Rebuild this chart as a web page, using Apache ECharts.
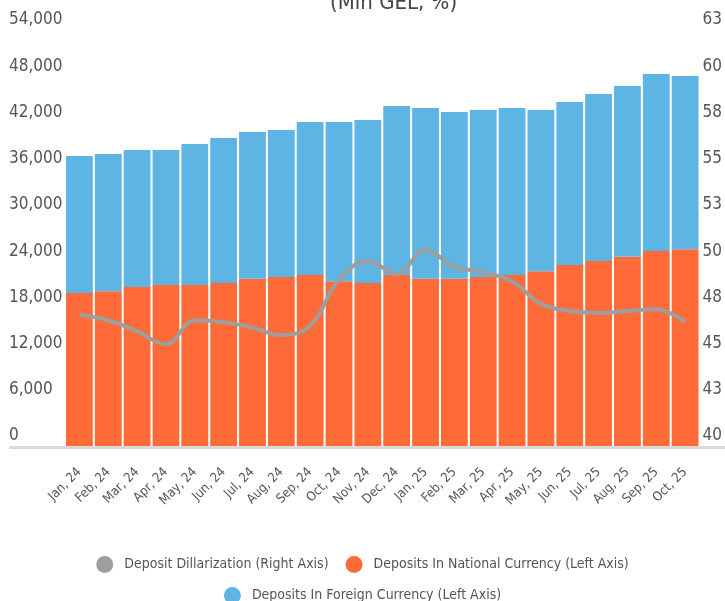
<!DOCTYPE html>
<html>
<head>
<meta charset="utf-8">
<script src="https://cdn.jsdelivr.net/npm/echarts@6/dist/echarts.min.js"></script>
<style>
  html, body { margin: 0; padding: 0; background: #fff; }
  #chart { width: 725px; height: 601px; }
</style>
</head>
<body>
<div id="chart"></div>
<script>
// Monthly deposits (Mln GEL) and deposit dollarization (%)
const months = ['Jan, 24', 'Feb, 24', 'Mar, 24', 'Apr, 24', 'May, 24', 'Jun, 24', 'Jul, 24', 'Aug, 24',
  'Sep, 24', 'Oct, 24', 'Nov, 24', 'Dec, 24', 'Jan, 25', 'Feb, 25', 'Mar, 25', 'Apr, 25', 'May, 25',
  'Jun, 25', 'Jul, 25', 'Aug, 25', 'Sep, 25', 'Oct, 25']
const nationalCurrency = [19850, 20100, 20650, 20900, 20900, 21150, 21700, 21950, 22200, 21400, 21150,
  22200, 21700, 21700, 21950, 22200, 22700, 23500, 24000, 24550, 25300, 25550]
const foreignCurrency = [17790, 17800, 17770, 17520, 18300, 18830, 19060, 19070, 19860, 20660, 21170,
  21930, 22170, 21650, 21660, 21670, 20910, 21150, 21690, 22180, 22990, 22480]
const dollarization = [47.1, 46.8, 46.2, 45.5, 46.8, 46.7, 46.4, 46.0, 46.5, 49.0, 50.0,
  49.3, 50.6, 49.7, 49.4, 48.9, 47.7, 47.3, 47.2, 47.3, 47.4, 46.7]

const FONT = "'Liberation Sans Narrow', 'DejaVu Sans Condensed', sans-serif"
const colors = {
  national: '#ff6b38',
  foreign: '#5eb5e4',
  line: '#9e9e9e',
  text: '#555555',
  base: '#d9d9d9'
}

const chart = echarts.init(document.getElementById('chart'))

const legendText = { fontFamily: FONT, fontSize: 14, color: colors.text, padding: [0, 0, 0, 6] }

const option = {
  backgroundColor: '#ffffff',
  animation: false,
  title: {
    text: '(Mln GEL, %)',
    left: 325,
    top: -13,
    textStyle: { fontFamily: FONT, fontSize: 22, fontWeight: 'normal', color: '#444' }
  },
  grid: { left: 65, right: 21, top: 30, bottom: 155 },
  legend: [
    {
      data: ['Deposit Dillarization (Right Axis)', 'Deposits In National Currency (Left Axis)'],
      left: 'center',
      top: 551,
      icon: 'circle',
      itemWidth: 17,
      itemHeight: 17,
      itemGap: 17,
      textStyle: legendText
    },
    {
      data: ['Deposits In Foreign Currency (Left Axis)'],
      left: 'center',
      top: 582,
      icon: 'circle',
      itemWidth: 17,
      itemHeight: 17,
      textStyle: legendText
    }
  ],
  graphic: [
    {
      type: 'rect',
      silent: true,
      z: 0,
      shape: { x: 9, y: 446, width: 716, height: 3 },
      style: { fill: colors.base }
    }
  ],
  xAxis: {
    type: 'category',
    data: months,
    axisLine: { show: false },
    axisTick: { show: false },
    axisLabel: {
      rotate: 45,
      interval: 0,
      margin: 24,
      fontFamily: FONT,
      fontSize: 13,
      color: colors.text
    }
  },
  yAxis: [
    {
      type: 'value',
      min: 0,
      max: 54000,
      interval: 6000,
      splitLine: { show: false },
      axisLine: { show: false },
      axisTick: { show: false },
      axisLabel: {
        align: 'left',
        verticalAlign: 'bottom',
        lineHeight: 20,
        margin: 56,
        fontFamily: FONT,
        fontSize: 17,
        color: colors.text,
        formatter: v => v.toLocaleString('en-US')
      }
    },
    {
      type: 'value',
      min: 40,
      max: 62.5,
      interval: 2.5,
      splitLine: { show: false },
      axisLine: { show: false },
      axisTick: { show: false },
      axisLabel: {
        align: 'left',
        verticalAlign: 'bottom',
        lineHeight: 20,
        margin: 3,
        fontFamily: FONT,
        fontSize: 17,
        color: colors.text,
        formatter: v => String(Math.round(v))
      }
    }
  ],
  series: [
    {
      name: 'Deposits In National Currency (Left Axis)',
      type: 'bar',
      stack: 'deposits',
      yAxisIndex: 0,
      data: nationalCurrency,
      barCategoryGap: '7%',
      itemStyle: { color: colors.national }
    },
    {
      name: 'Deposits In Foreign Currency (Left Axis)',
      type: 'bar',
      stack: 'deposits',
      yAxisIndex: 0,
      data: foreignCurrency,
      barCategoryGap: '7%',
      itemStyle: { color: colors.foreign }
    },
    {
      name: 'Deposit Dillarization (Right Axis)',
      type: 'line',
      yAxisIndex: 1,
      data: dollarization,
      smooth: 0.4,
      showSymbol: false,
      symbol: 'none',
      z: 5,
      itemStyle: { color: colors.line },
      lineStyle: { width: 4, color: colors.line }
    }
  ]
}

chart.setOption(option)
</script>
</body>
</html>
